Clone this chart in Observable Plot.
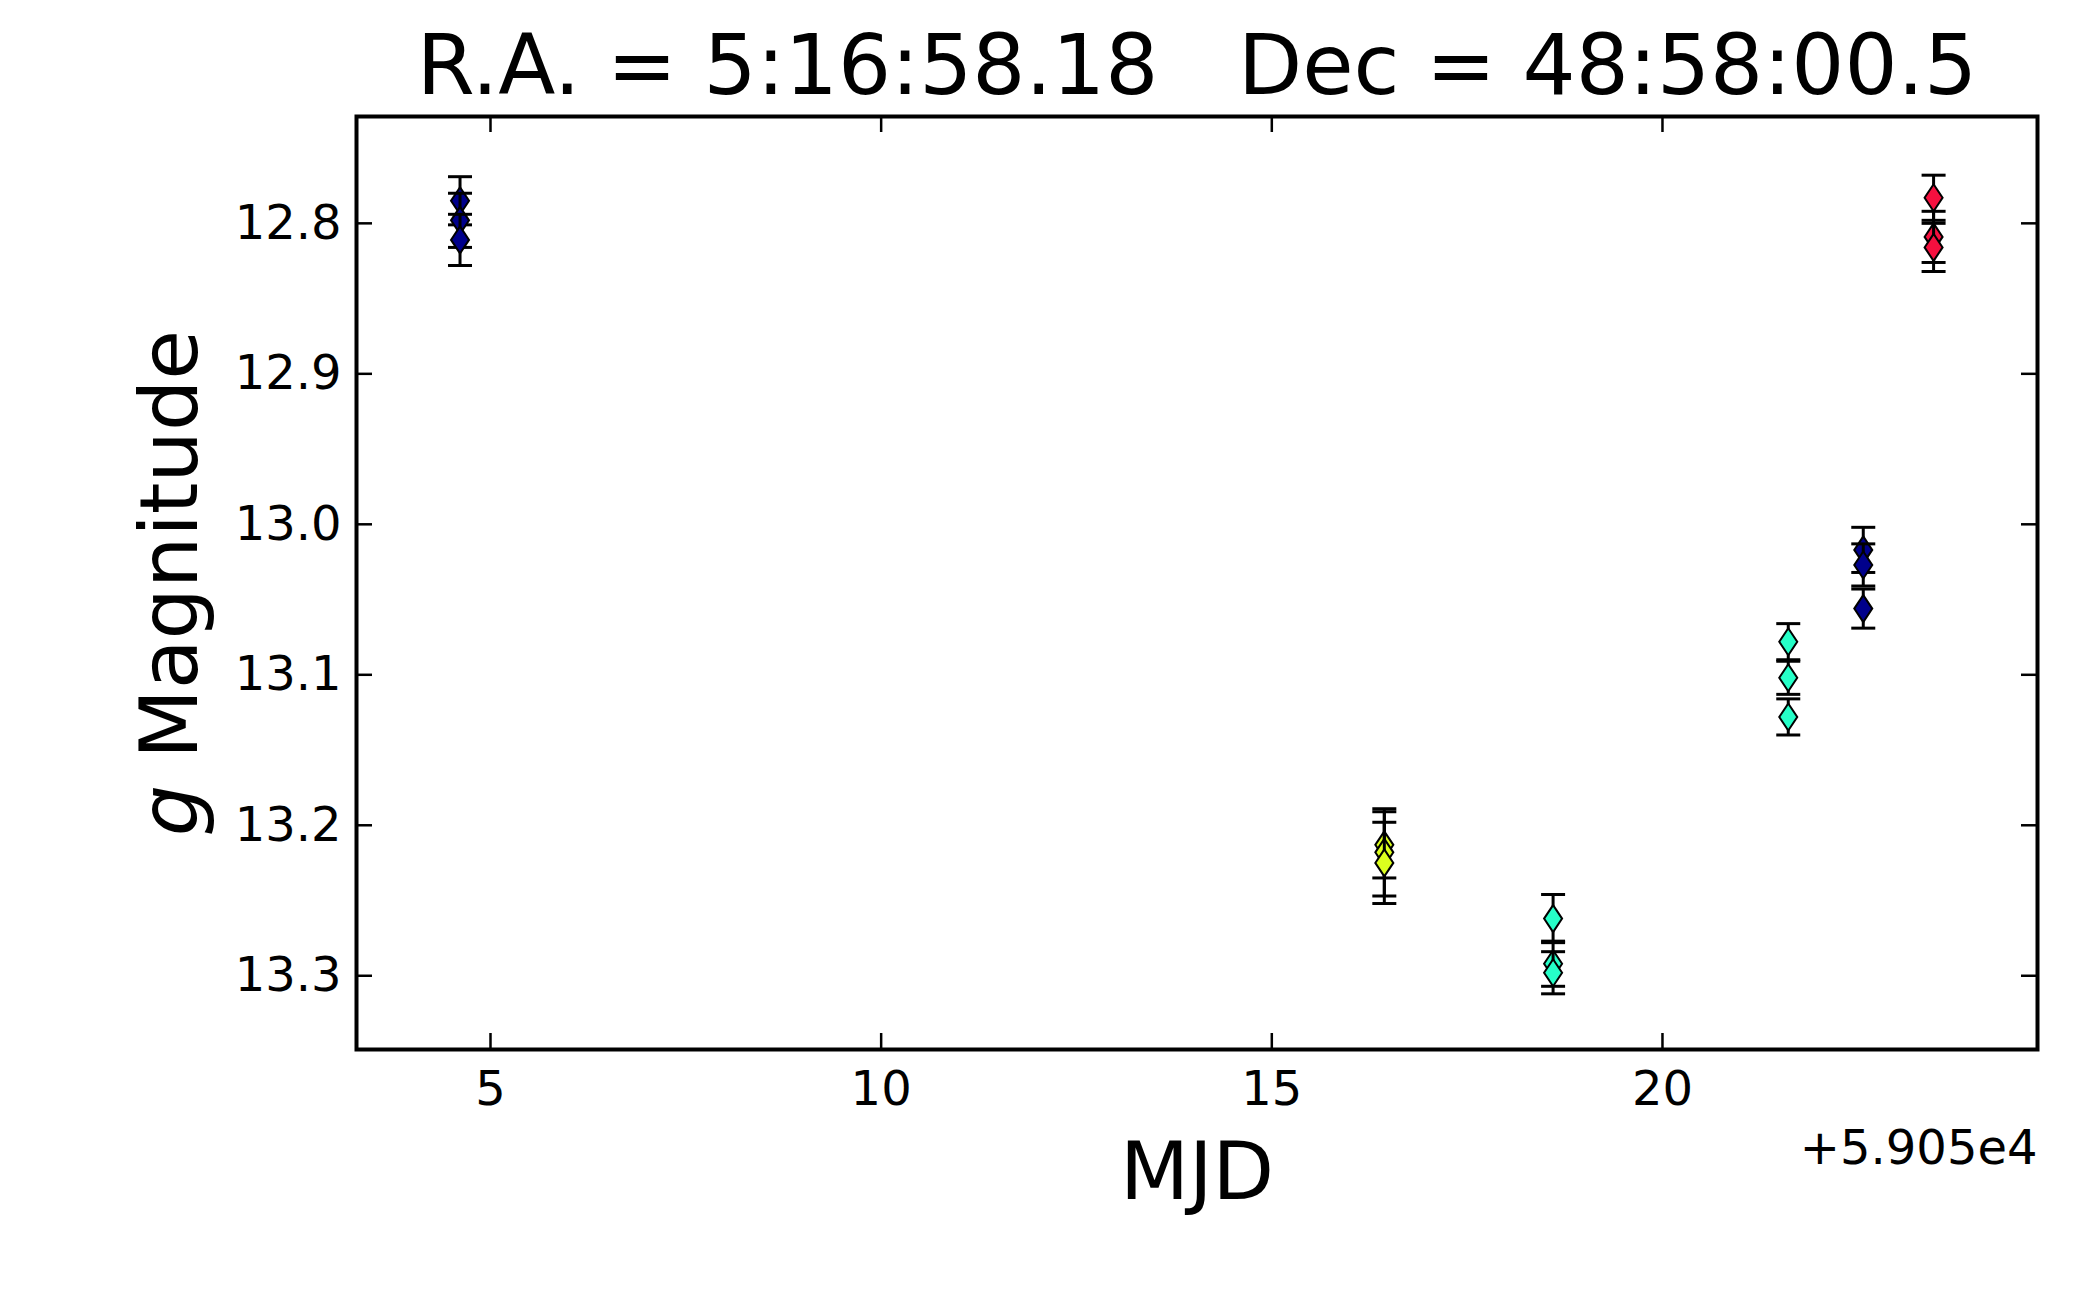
<!DOCTYPE html>
<html><head><meta charset="utf-8">
<script src="https://cdn.jsdelivr.net/npm/d3@7"></script>
<script src="https://cdn.jsdelivr.net/npm/@observablehq/plot@0.6"></script>
<style>body{margin:0;background:#fff} svg{font-family:"DejaVu Sans"}</style>
</head><body><div id="chart"></div>
<script>
// ---- data ----
const titleText = "R.A. = 5:16:58.18   Dec = 48:58:00.5";
const xLabel = "MJD";
const yLabel = "g Magnitude";
const offsetText = "+5.905e4";
const mjdOffset = 59050;
const groupColors = ["#00008b", "#dcff1e", "#26ffc8", "#26ffc8", "#00008b", "#f5103f"];
const mjd = [59054.61, 59054.61, 59054.61, 59066.44, 59066.44, 59066.44, 59068.60, 59068.60, 59068.60,
             59071.61, 59071.61, 59071.61, 59072.57, 59072.57, 59072.57, 59073.47, 59073.47, 59073.47];
const mag = [12.785, 12.798, 12.811, 13.213, 13.218, 13.225, 13.262, 13.292, 13.298,
             13.078, 13.102, 13.128, 13.017, 13.027, 13.056, 12.783, 12.809, 12.816];
const magErr = [0.016, 0.018, 0.017, 0.022, 0.029, 0.027, 0.016, 0.015, 0.014,
                0.012, 0.011, 0.012, 0.015, 0.014, 0.013, 0.015, 0.017, 0.016];
const groupIndex = [0,0,0, 1,1,1, 2,2,2, 3,3,3, 4,4,4, 5,5,5];
const xTickValues = [5, 10, 15, 20];
const yTickValues = [12.8, 12.9, 13.0, 13.1, 13.2, 13.3];
const xDomain = [59053.285, 59074.80];
const yDomain = [13.349, 12.729];

// ---- layout ----
const W = 2100, H = 1297;
const mL = 356, mR = 63, mT = 116, mB = 248;
const fw = W - mL - mR, fh = H - mT - mB;
const tickLen = 16;

const thinDiamond = {draw(ctx, size) {
  const r = Math.sqrt(size / Math.PI);
  ctx.moveTo(0, -r); ctx.lineTo(r * 0.667, 0); ctx.lineTo(0, r); ctx.lineTo(-r * 0.667, 0); ctx.closePath();
}};
const capSymbol = {draw(ctx, size) {
  const r = Math.sqrt(size / Math.PI);
  ctx.moveTo(-r, 0); ctx.lineTo(r, 0);
}};

const points = mjd.map((x, i) => ({x, y: mag[i], e: magErr[i], c: groupColors[groupIndex[i]]}));

const pointMarks = [];
for (const p of points) {
  const d = [p];
  pointMarks.push(
    Plot.ruleX(d, {x: "x", y1: q => q.y - q.e, y2: q => q.y + q.e, stroke: "black", strokeWidth: 3}),
    Plot.dot(d, {x: "x", y: q => q.y - q.e, symbol: capSymbol, r: 12, fill: "none", stroke: "black", strokeWidth: 3}),
    Plot.dot(d, {x: "x", y: q => q.y + q.e, symbol: capSymbol, r: 12, fill: "none", stroke: "black", strokeWidth: 3}),
    Plot.dot(d, {x: "x", y: "y", symbol: thinDiamond, r: 13.5, fill: p.c, stroke: "black", strokeWidth: 2})
  );
}

const chart = Plot.plot({
  width: W, height: H,
  marginLeft: mL, marginRight: mR, marginTop: mT, marginBottom: mB,
  style: {fontFamily: "DejaVu Sans", background: "white", color: "black", overflow: "visible"},
  x: {domain: xDomain},
  y: {domain: yDomain},
  marks: [
    // tick labels
    Plot.axisX({ticks: xTickValues.map(v => v + mjdOffset), tickFormat: v => String(Math.round(v - mjdOffset)),
      tickSize: 0, tickPadding: 21, fontSize: 48, label: null}),
    Plot.axisY({ticks: yTickValues, tickFormat: v => v.toFixed(1),
      tickSize: 0, tickPadding: 15, fontSize: 48, label: null}),
    // inward tick marks on all four sides
    Plot.tickY(yTickValues, {y: d => d, stroke: "black", strokeWidth: 2.5, insetRight: fw - tickLen}),
    Plot.tickY(yTickValues, {y: d => d, stroke: "black", strokeWidth: 2.5, insetLeft: fw - tickLen}),
    Plot.tickX(xTickValues, {x: d => d + mjdOffset, stroke: "black", strokeWidth: 2.5, insetTop: fh - tickLen}),
    Plot.tickX(xTickValues, {x: d => d + mjdOffset, stroke: "black", strokeWidth: 2.5, insetBottom: fh - tickLen}),
    ...pointMarks,
    Plot.frame({stroke: "black", strokeWidth: 4}),
    // texts
    Plot.text([titleText], {frameAnchor: "top", dy: -49, fontSize: 83.5, fill: "black", lineAnchor: "middle", textAnchor: "middle"}),
    Plot.text([xLabel], {frameAnchor: "bottom", dy: 124, fontSize: 80, fill: "black", lineAnchor: "middle", textAnchor: "middle"}),
    Plot.text([yLabel], {frameAnchor: "left", dx: -185, rotate: -90, fontSize: 81, fill: "black", lineAnchor: "middle", textAnchor: "middle"}),
    Plot.text([offsetText], {frameAnchor: "bottom-right", dy: 99, textAnchor: "end", lineAnchor: "middle", fontSize: 48, fill: "black"})
  ]
});

// italic "g" as in the mathtext label
for (const t of chart.querySelectorAll("text")) {
  if (t.textContent === yLabel) {
    t.textContent = "";
    const ns = "http://www.w3.org/2000/svg";
    const a = document.createElementNS(ns, "tspan");
    a.setAttribute("font-style", "italic");
    a.textContent = "g";
    const b = document.createElementNS(ns, "tspan");
    b.textContent = "\u00a0Magnitude";
    t.appendChild(a); t.appendChild(b);
  }
}
document.getElementById("chart").appendChild(chart);
</script>
</body></html>
